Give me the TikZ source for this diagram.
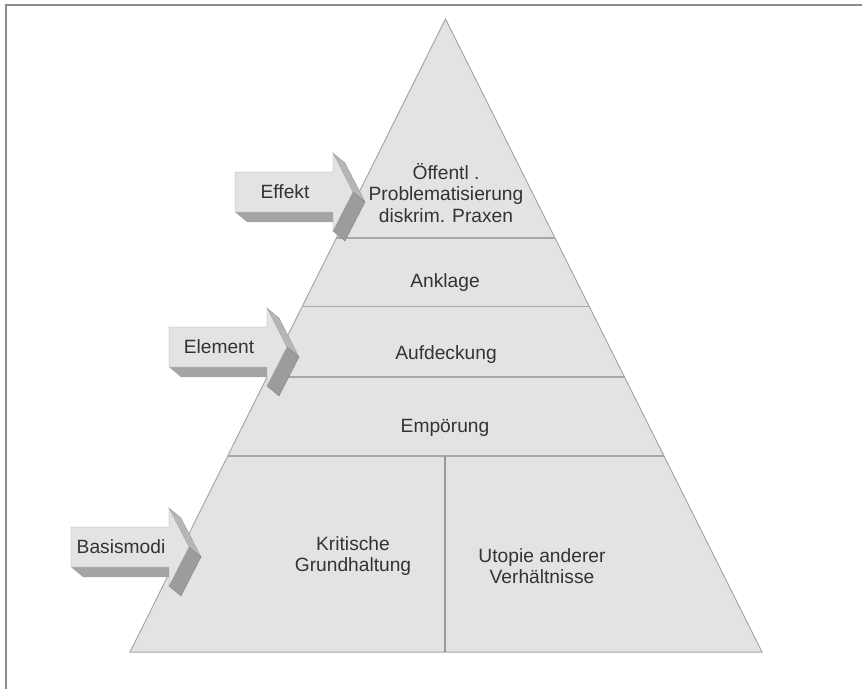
\documentclass[tikz,border=0pt]{standalone}
\usepackage{fontspec}
\setmainfont{Liberation Sans}
\usetikzlibrary{calc}
\definecolor{pyrfill}{HTML}{E3E3E3}
\definecolor{pyrline}{HTML}{A8A8A8}
\definecolor{txt}{HTML}{333333}
\definecolor{facetop}{HTML}{B6B6B6}
\definecolor{facelow}{HTML}{9C9C9C}
\definecolor{facebot}{HTML}{A4A4A4}
\tikzset{
  lbl/.style={font=\fontsize{19.2}{21.5}\selectfont, text=txt, align=center, inner sep=0pt},
  level/.style={draw=pyrline, line width=1.2pt},
  frameline/.style={draw=black!45, line width=1.6pt},
  pics/barrow/.style={code={
    \fill[facebot] (0,40) -- (98,40) -- (110,50) -- (12,50) -- cycle;
    \fill[facetop, draw=facetop!80!black, line width=0.3pt] (98,-19) -- (118,20) -- (130,30) -- (110,-9) -- cycle;
    \fill[facelow, draw=facelow!80!black, line width=0.3pt] (118,20) -- (98,59) -- (110,69) -- (130,30) -- cycle;
    \fill[pyrfill, draw=pyrline, line width=0.4pt] (0,0) -- (98,0) -- (98,-19) -- (118,20) -- (98,59) -- (98,40) -- (0,40) -- cycle;
    \node[lbl] (-t) at (50,20) {#1};
  }}
}
\begin{document}
\begin{tikzpicture}[x=1pt,y=-1pt]
\useasboundingbox (0,0) rectangle (862,689);
\fill[white] (0,0) rectangle (862,689);
% frame
\draw[frameline] (862,5) -- (5.8,5) -- (5.8,689);
% pyramid
\coordinate (apex) at (445.5,19);
\coordinate (bl) at (130,652);
\coordinate (br) at (762,652);
\filldraw[fill=pyrfill, draw=pyrline, line width=1pt] (apex) -- (bl) -- (br) -- cycle;
\foreach \t in {0.346,0.4542,0.5656,0.6904}
  \draw[level] ($(apex)!\t!(bl)$) -- ($(apex)!\t!(br)$);
\coordinate (divtop) at (445,456);
\coordinate (divbot) at (445,652);
\draw[draw=black!40, line width=1.4pt] (divtop) -- (divbot);
% texts
\node[lbl] (oeff) at (446,193) {Öffentl .\\Problematisierung\\diskrim. Praxen};
\node[lbl] (ankl) at (445,283) {Anklage};
\node[lbl] (aufd) at (446,355) {Aufdeckung};
\node[lbl] (empo) at (445,428) {Empörung};
\node[lbl] (krit) at (353,556) {Kritische\\Grundhaltung};
\node[lbl] (utop) at (542,566) {Utopie anderer\\Verhältnisse};
% arrows
\pic (eff) at (235,172) {barrow={Effekt}};
\pic (ele) at (169,327) {barrow={Element}};
\pic (bas) at (71,527) {barrow={Basismodi}};
\end{tikzpicture}
\end{document}
